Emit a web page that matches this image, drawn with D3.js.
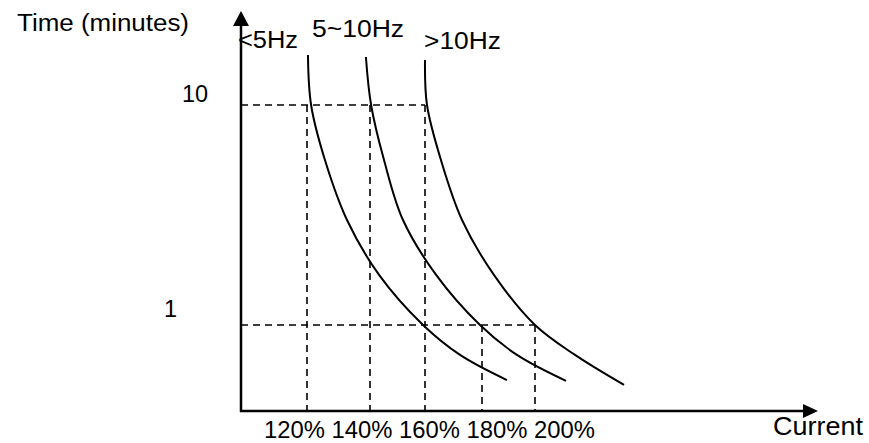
<!DOCTYPE html>
<html>
<head>
<meta charset="utf-8">
<script src="https://cdn.jsdelivr.net/npm/d3@7"></script>
<style>
  body { margin: 0; background: #fff; }
  svg text { font-family: "Liberation Sans", Arial, sans-serif; fill: #000; }
</style>
</head>
<body>
<div id="wrapper"></div>
<script>
// 1. Data (current in %, time in minutes)

const curveNames = ["<5Hz", "5~10Hz", ">10Hz"];
const lowFreqCurve = [
  [120.3, 16.88], [121.3, 10], [125.7, 5.62], [132.7, 3.0],
  [143.3, 1.69], [159.3, 1.0], [172.3, 0.731], [189.4, 0.562],
];
const midFreqCurve = [
  [138.7, 16.53], [140.4, 10], [145.1, 5.62], [152.0, 3.0],
  [163.9, 1.69], [179.3, 1.0], [193.2, 0.731], [211.7, 0.557],
];
const highFreqCurve = [
  [160, 16.02], [160.7, 10], [165.6, 5.62], [173.0, 3.0],
  [184.5, 1.69], [200, 1.0], [215.1, 0.731], [233.6, 0.534],
];
const curves = [lowFreqCurve, midFreqCurve, highFreqCurve];

const xTicks = [120, 140, 160, 180, 200];
const xTickLabels = ["120%", "140%", "160%", "180%", "200%"];
const yTicks = [10, 1];
const yTickLabels = ["10", "1"];

// guide lines: [current, time]
const guides = [
  [120, 10], [140, 10], [160, 10], [180, 1], [200, 1],
];

// 2. Dimensions

const width = 869;
const height = 443;
const axisX = 241;
const axisY = 411;

// 3. Canvas

const svg = d3.select("#wrapper")
  .append("svg")
    .attr("width", width)
    .attr("height", height);

// 4. Scales

const xScale = d3.scaleLinear()
  .domain(xTicks)
  .range([307, 370, 425, 482, 535]);

const yScale = d3.scaleLog()
  .domain([1, 10])
  .range([325, 105]);

// 5. Guide lines

const dash = "7,5";
const guideG = svg.append("g")
  .attr("stroke", "#000")
  .attr("stroke-width", 1.6)
  .attr("stroke-dasharray", dash)
  .attr("fill", "none");

// horizontal guides go to the furthest current at each time
yTicks.forEach(t => {
  const maxC = d3.max(guides.filter(g => g[1] === t), g => g[0]);
  guideG.append("line")
    .attr("x1", axisX)
    .attr("x2", xScale(maxC))
    .attr("y1", yScale(t))
    .attr("y2", yScale(t));
});

guideG.selectAll(".vguide")
  .data(guides)
  .join("line")
    .attr("class", "vguide")
    .attr("x1", d => xScale(d[0]))
    .attr("x2", d => xScale(d[0]))
    .attr("y1", d => yScale(d[1]))
    .attr("y2", axisY);

// 6. Curves

const line = d3.line()
  .x(d => xScale(d[0]))
  .y(d => yScale(d[1]))
  .curve(d3.curveCatmullRom.alpha(0.5));

svg.selectAll(".curve")
  .data(curves)
  .join("path")
    .attr("class", "curve")
    .attr("d", line)
    .attr("fill", "none")
    .attr("stroke", "#000")
    .attr("stroke-width", 2);

// 7. Axes with arrows

svg.append("line")
  .attr("x1", axisX).attr("x2", axisX)
  .attr("y1", axisY + 1).attr("y2", 20)
  .attr("stroke", "#000")
  .attr("stroke-width", 2.5);
svg.append("path")
  .attr("d", `M${axisX},11 L${axisX - 8},26 L${axisX + 8},26 Z`)
  .attr("fill", "#000");

svg.append("line")
  .attr("x1", axisX - 1).attr("x2", 810)
  .attr("y1", axisY).attr("y2", axisY)
  .attr("stroke", "#000")
  .attr("stroke-width", 2.5);
svg.append("path")
  .attr("d", `M818,${axisY} L803,${axisY - 7} L803,${axisY + 7} Z`)
  .attr("fill", "#000");

// 8. Text

const addText = (txt, x, y, size, len) => svg.append("text")
  .attr("x", x)
  .attr("y", y)
  .attr("font-size", size)
  .attr("textLength", len)
  .attr("lengthAdjust", "spacingAndGlyphs")
  .text(txt);

addText("Time (minutes)", 17, 31, 23.5, 172);
addText("Current", 773, 435, 25, 90);
addText(xTickLabels.join(" "), 264, 438, 23.5, 331);

// curve labels
const curveLabelPos = [[238, 48, 60], [312, 37, 92], [424, 49, 77]];
curveNames.forEach((n, i) => {
  const p = curveLabelPos[i];
  addText(n, p[0], p[1], 23.5, p[2]);
});

// y tick labels
svg.selectAll(".ylabel")
  .data(yTicks)
  .join("text")
    .attr("class", "ylabel")
    .attr("x", (d, i) => i === 0 ? 182 : 164)
    .attr("y", d => yScale(d) - 3 - (d === 10 ? 0 : 5))
    .attr("font-size", 23.5)
    .text((d, i) => yTickLabels[i]);
</script>
</body>
</html>
